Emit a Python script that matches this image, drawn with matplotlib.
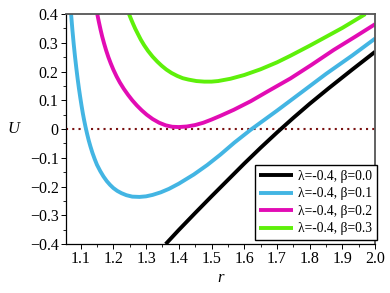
import matplotlib
matplotlib.use("Agg")
import matplotlib.pyplot as plt
from matplotlib.ticker import MultipleLocator, FixedLocator

plt.rcParams['font.family'] = ['Liberation Serif', 'DejaVu Serif']

# curve values
r_b00 = [1.360, 1.400, 1.450, 1.500, 1.550, 1.600, 1.650, 1.700, 1.750, 1.800, 1.858, 1.930, 2.000]
u_b00 = [-0.400, -0.351, -0.292, -0.234, -0.177, -0.120, -0.065, -0.012, 0.039, 0.088, 0.142, 0.207, 0.269]

r_b01 = [1.071, 1.075, 1.079, 1.083, 1.087, 1.091, 1.095, 1.099, 1.103, 1.107, 1.111, 1.115,
         1.120, 1.125, 1.130, 1.136, 1.143, 1.150, 1.160, 1.170, 1.180, 1.190, 1.200, 1.212,
         1.225, 1.240, 1.258, 1.280, 1.300, 1.320, 1.345, 1.370, 1.400, 1.446, 1.487, 1.527,
         1.570, 1.619, 1.700, 1.781, 1.850, 1.930, 2.000]
u_b01 = [0.400, 0.345, 0.296, 0.252, 0.212, 0.175, 0.141, 0.110, 0.081, 0.054, 0.030, 0.008,
         -0.017, -0.040, -0.060, -0.082, -0.104, -0.124, -0.146, -0.165, -0.181, -0.194, -0.205, -0.215,
         -0.223, -0.230, -0.235, -0.236, -0.234, -0.229, -0.220, -0.208, -0.190, -0.158, -0.125, -0.089,
         -0.047, -0.003, 0.064, 0.133, 0.192, 0.256, 0.315]

r_b02 = [1.151, 1.156, 1.161, 1.166, 1.172, 1.178, 1.185, 1.192, 1.200, 1.210, 1.220, 1.232,
         1.245, 1.258, 1.272, 1.287, 1.302, 1.320, 1.340, 1.360, 1.380, 1.400, 1.425, 1.450,
         1.475, 1.500, 1.527, 1.568, 1.620, 1.670, 1.741, 1.805, 1.873, 1.940, 2.000]
u_b02 = [0.400, 0.372, 0.346, 0.322, 0.297, 0.274, 0.250, 0.229, 0.207, 0.183, 0.162, 0.140,
         0.119, 0.100, 0.082, 0.065, 0.050, 0.035, 0.022, 0.013, 0.008, 0.007, 0.009, 0.014,
         0.022, 0.033, 0.046, 0.067, 0.097, 0.130, 0.176, 0.223, 0.275, 0.322, 0.365]

r_b03 = [1.248, 1.254, 1.260, 1.267, 1.275, 1.284, 1.294, 1.306, 1.320, 1.334, 1.348, 1.362,
         1.378, 1.395, 1.412, 1.430, 1.454, 1.478, 1.500, 1.520, 1.558, 1.600, 1.650, 1.700,
         1.741, 1.800, 1.842, 1.900, 1.970]
u_b03 = [0.400, 0.383, 0.367, 0.349, 0.331, 0.311, 0.292, 0.272, 0.252, 0.235, 0.220, 0.207,
         0.195, 0.185, 0.177, 0.172, 0.167, 0.165, 0.165, 0.167, 0.175, 0.188, 0.208, 0.232,
         0.255, 0.290, 0.316, 0.352, 0.400]

labels = ["λ=-0.4, β=0.0", "λ=-0.4, β=0.1", "λ=-0.4, β=0.2", "λ=-0.4, β=0.3"]
colors = ["black", "#43b5e3", "#e20cb4", "#5ef00a"]

x_ticks = [1.1, 1.2, 1.3, 1.4, 1.5, 1.6, 1.7, 1.8, 1.9, 2.0]
y_ticks = [-0.4, -0.3, -0.2, -0.1, 0.0, 0.1, 0.2, 0.3, 0.4]

fig = plt.figure(figsize=(3.9, 2.93), dpi=100)
ax = fig.add_axes([0.168, 0.167, 0.794, 0.785])

ax.axhline(0, color="#7a1212", lw=1.5, linestyle=(0, (1, 2)), zorder=1)

series = [(r_b00, u_b00), (r_b01, u_b01), (r_b02, u_b02), (r_b03, u_b03)]
for (rr, uu), lab, col in zip(series, labels, colors):
    ax.plot(rr, uu, color=col, lw=2.8, label=lab, solid_capstyle='butt')

ax.set_xlim(1.054, 2.0)
ax.set_ylim(-0.4, 0.4)

ax.xaxis.set_major_locator(FixedLocator(x_ticks))
ax.yaxis.set_major_locator(FixedLocator(y_ticks))
ax.xaxis.set_minor_locator(MultipleLocator(0.05))
ax.yaxis.set_minor_locator(MultipleLocator(0.05))
ax.set_xticklabels([f"{v:.1f}" for v in x_ticks])
ax.set_yticklabels(["0" if v == 0 else f"{v:.1f}".replace("-", "\u2212") for v in y_ticks])
ax.tick_params(which='major', direction='out', length=3.5, width=0.7, labelsize=11.5, pad=1.5)
ax.tick_params(which='minor', direction='out', length=2, width=0.6)

for s in ['left', 'bottom']:
    ax.spines[s].set_color('black')
    ax.spines[s].set_linewidth(0.9)
for s in ['top', 'right']:
    ax.spines[s].set_color('#555555')
    ax.spines[s].set_linewidth(1.3)

ax.set_xlabel("r", fontstyle='italic', fontsize=12, labelpad=2)
ax.set_ylabel("U", fontstyle='italic', fontsize=12, rotation=0, labelpad=12, va='center')

leg = ax.legend(loc='lower right', bbox_to_anchor=(1.006, 0.017), fontsize=9.8,
                fancybox=False, framealpha=1, edgecolor='black', handlelength=2.5,
                handletextpad=0.35, labelspacing=0.33, borderpad=0.35, borderaxespad=0)
leg.get_frame().set_linewidth(1.0)

fig.savefig("out.png", dpi=100)
